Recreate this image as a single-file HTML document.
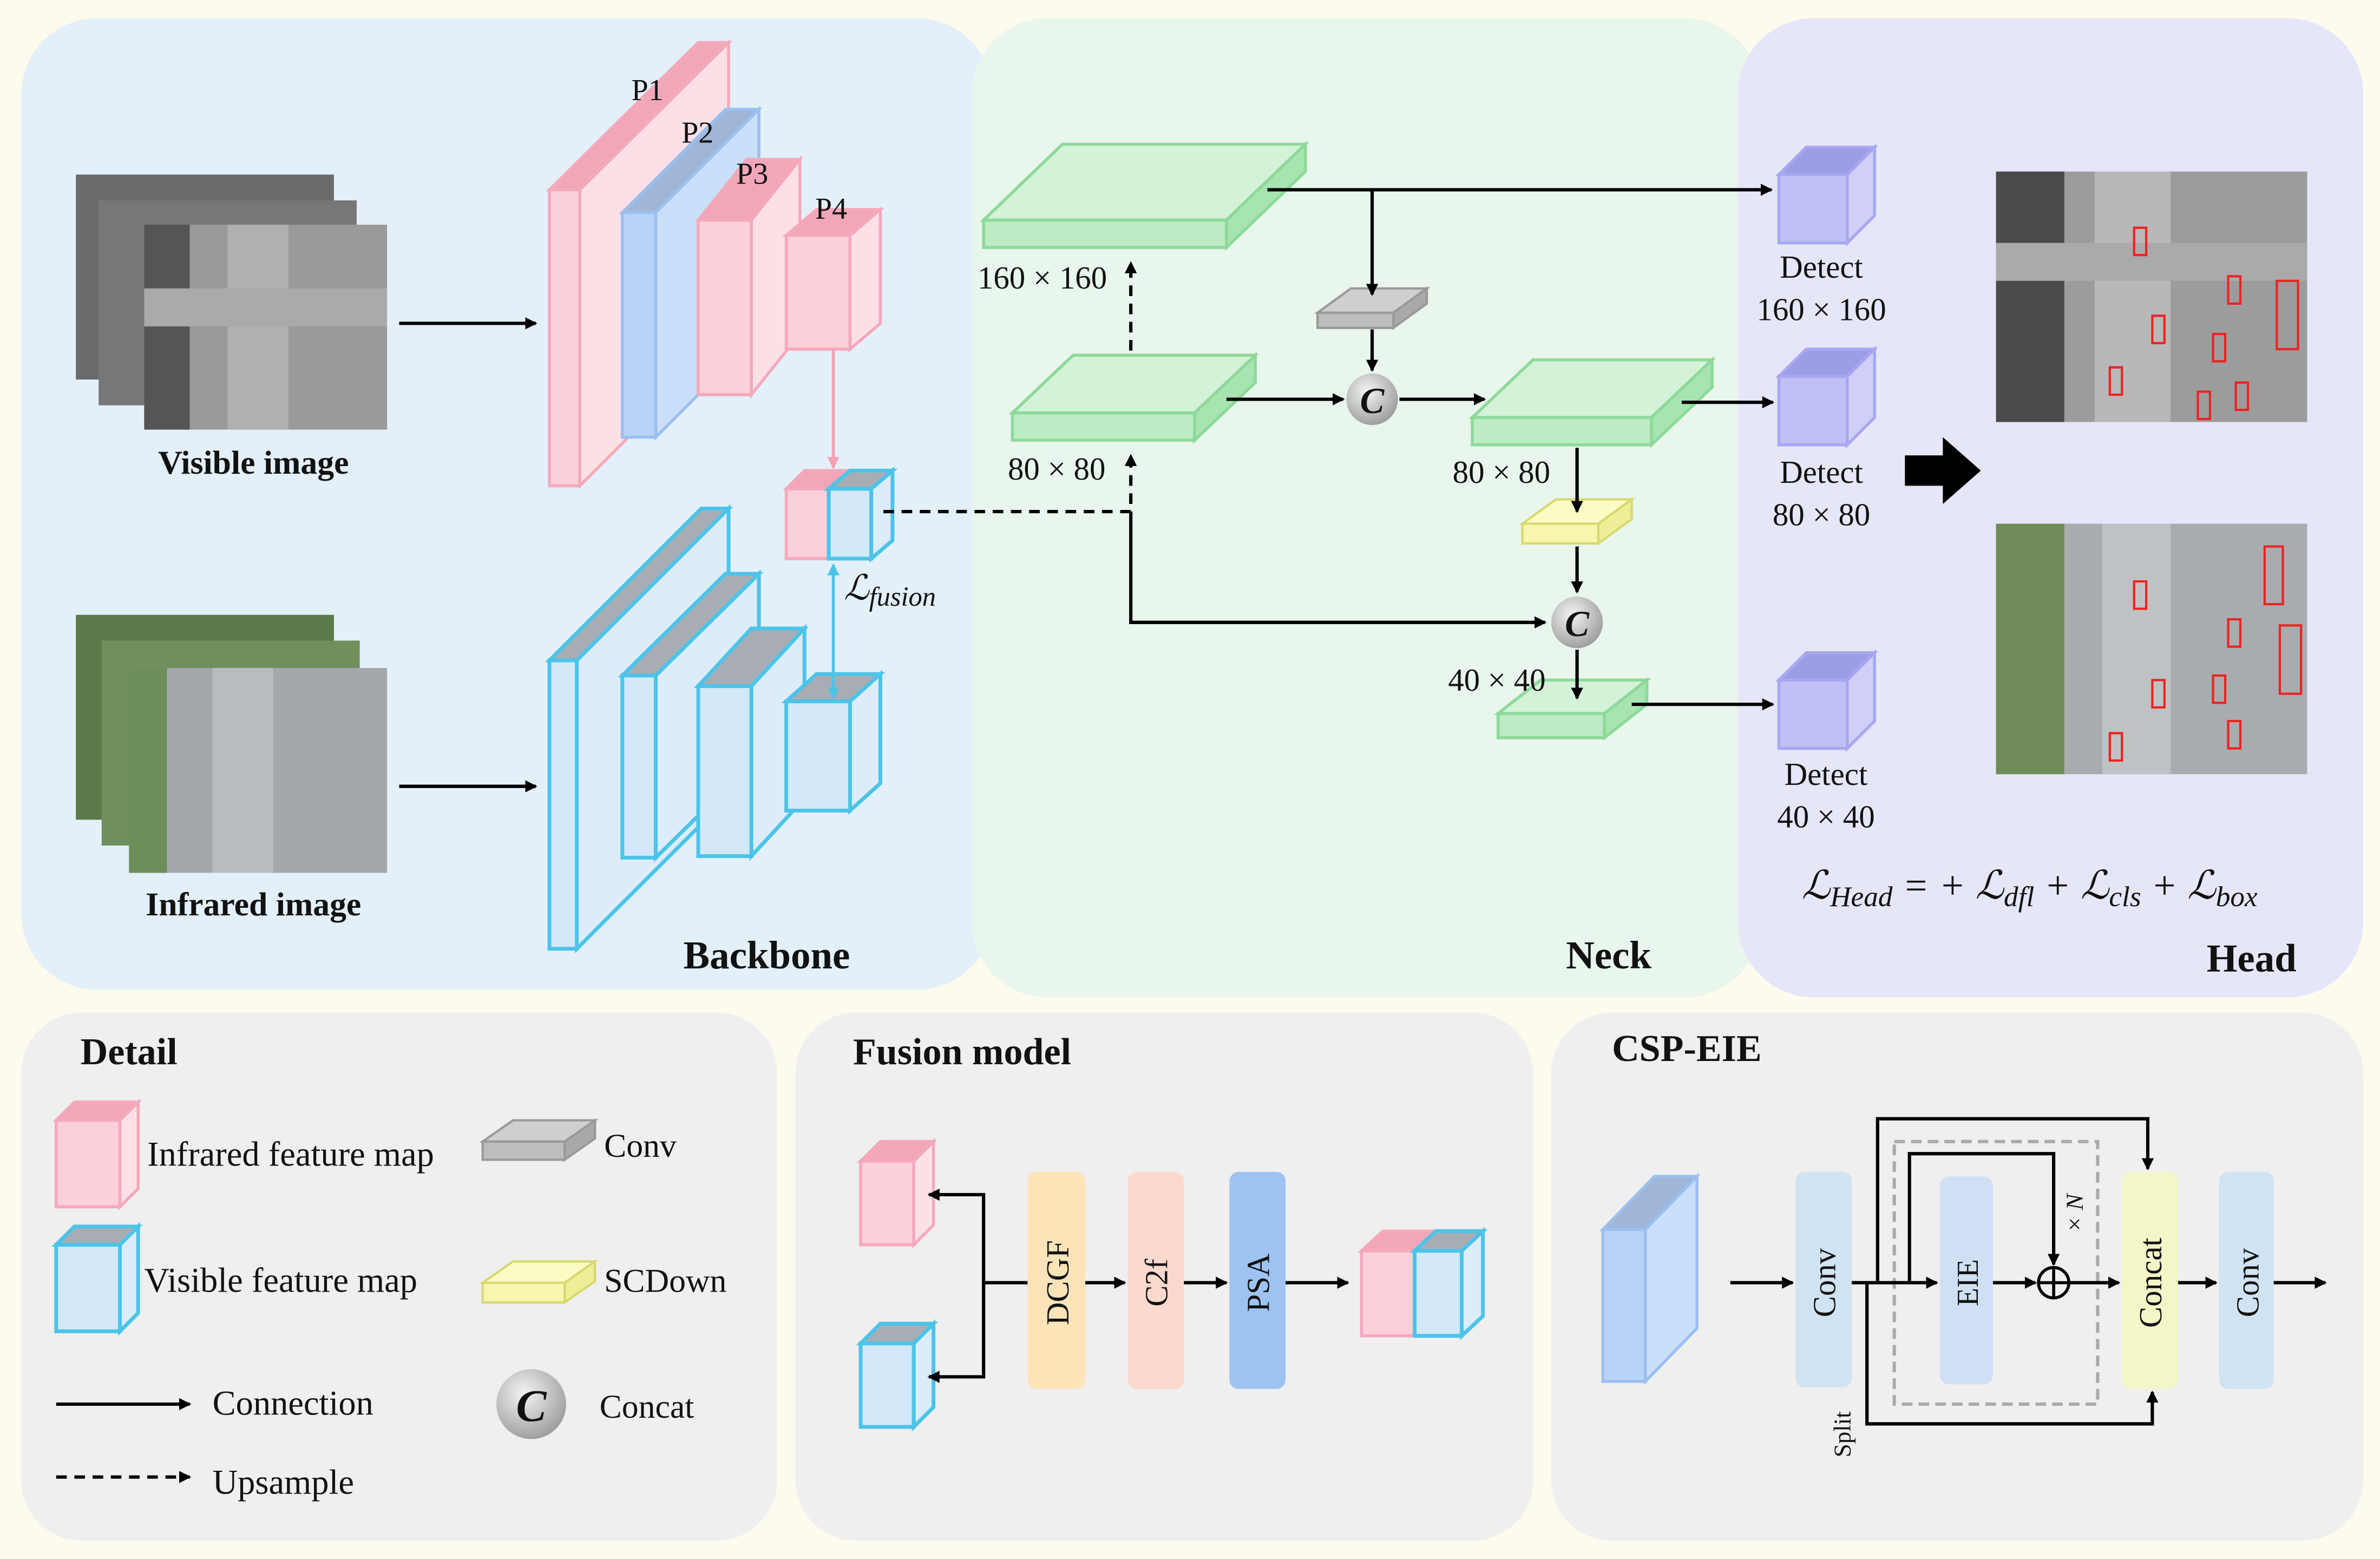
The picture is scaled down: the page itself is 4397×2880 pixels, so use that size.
<!DOCTYPE html>
<html><head><meta charset="utf-8"><style>
html,body{margin:0;padding:0;background:#fdfbee}
svg{display:block}
text{font-family:"Liberation Serif",serif;fill:#111}
</style></head><body>
<svg width="4397" height="2880" viewBox="0 0 1568 1027" xmlns="http://www.w3.org/2000/svg">
<defs>
<marker id="ah" markerWidth="8" markerHeight="8" refX="7" refY="4" orient="auto" markerUnits="userSpaceOnUse"><path d="M0,0 L8,4 L0,8 Z" fill="#000"/></marker>
<marker id="ahp" markerWidth="8" markerHeight="8" refX="7" refY="4" orient="auto" markerUnits="userSpaceOnUse"><path d="M0,0 L8,4 L0,8 Z" fill="#f4a0b4"/></marker>
<marker id="ahc" markerWidth="8" markerHeight="8" refX="7" refY="4" orient="auto" markerUnits="userSpaceOnUse"><path d="M0,0 L8,4 L0,8 Z" fill="#4cc4e8"/></marker>
<radialGradient id="cg" cx="0.4" cy="0.35" r="0.7"><stop offset="0" stop-color="#f4f4f4"/><stop offset="1" stop-color="#9a9a9a"/></radialGradient>
</defs>
<rect width="1568" height="1027" fill="#fdfbee"/>
<!-- panels -->
<rect x="14" y="12" width="640" height="640" rx="50" fill="#e3f0fa"/>
<rect x="640" y="12" width="520" height="645" rx="50" fill="#e8f6ec"/>
<rect x="1145" y="12" width="412" height="645" rx="50" fill="#e6e6fa"/>
<rect x="14" y="667" width="498" height="348" rx="40" fill="#efefef"/>
<rect x="524" y="667" width="486" height="348" rx="40" fill="#efefef"/>
<rect x="1022" y="667" width="535" height="348" rx="40" fill="#efefef"/>

<!-- visible images -->
<rect x="50" y="115" width="170" height="135" fill="#6a6a6a"/>
<rect x="65" y="132" width="170" height="135" fill="#777"/>
<rect x="95" y="148" width="160" height="135" fill="#9a9a9a"/>
<rect x="95" y="148" width="30" height="135" fill="#555"/>
<rect x="150" y="148" width="40" height="135" fill="#b0b0b0"/>
<rect x="95" y="190" width="160" height="25" fill="#aaa"/>
<!-- infrared images -->
<rect x="50" y="405" width="170" height="135" fill="#5a7a4a"/>
<rect x="67" y="422" width="170" height="135" fill="#6f8f5c"/>
<rect x="85" y="440" width="170" height="135" fill="#a4a8ac"/>
<rect x="85" y="440" width="25" height="135" fill="#6c8e58"/>
<rect x="140" y="440" width="40" height="135" fill="#b8bcc0"/>
<text x="167" y="312" font-size="22" font-weight="bold" text-anchor="middle">Visible image</text>
<text x="167" y="603" font-size="22" font-weight="bold" text-anchor="middle">Infrared image</text>
<line x1="263" y1="213" x2="353" y2="213" stroke="#000" stroke-width="2.2" marker-end="url(#ah)"/>
<line x1="263" y1="518" x2="353" y2="518" stroke="#000" stroke-width="2.2" marker-end="url(#ah)"/>

<!-- pink pyramid -->
<g stroke="#f4a9bb" stroke-width="2">
<polygon points="362,125 460,28 480,28 382,125" fill="#f2a7b8"/><polygon points="382,125 480,28 480,222 382,320" fill="#fde0e6"/><rect x="362" y="125" width="20" height="195" fill="#fbd0d9"/>
</g>
<g stroke="#9cc0ee" stroke-width="2">
<polygon points="410,140 478,72 500,72 432,140" fill="#9fb6d8"/><polygon points="432,140 500,72 500,220 432,288" fill="#cadffa"/><rect x="410" y="140" width="22" height="148" fill="#b9d3f7"/>
</g>
<g stroke="#f4a9bb" stroke-width="2">
<polygon points="460,145 492,105 527,105 495,145" fill="#f2a7b8"/><polygon points="495,145 527,105 527,220 495,260" fill="#fde0e6"/><rect x="460" y="145" width="35" height="115" fill="#fbd0d9"/>
</g>
<g stroke="#f4a9bb" stroke-width="2">
<polygon points="518,155 538,138 580,138 560,155" fill="#f2a7b8"/><polygon points="560,155 580,138 580,213 560,230" fill="#fde0e6"/><rect x="518" y="155" width="42" height="75" fill="#fbd0d9"/>
</g>
<text x="416" y="66" font-size="20">P1</text><text x="449" y="94" font-size="20">P2</text><text x="485" y="121" font-size="20">P3</text><text x="537" y="144" font-size="20">P4</text>

<!-- blue pyramid -->
<g stroke="#4cc4e8" stroke-width="2.5">
<polygon points="362,435 462,335 480,335 380,435" fill="#a8adb4"/><polygon points="380,435 480,335 480,525 380,625" fill="#dcecfa"/><rect x="362" y="435" width="18" height="190" fill="#d3e8f8"/>
</g>
<g stroke="#4cc4e8" stroke-width="2.5">
<polygon points="410,445 478,378 500,378 432,445" fill="#a8adb4"/><polygon points="432,445 500,378 500,498 432,565" fill="#dcecfa"/><rect x="410" y="445" width="22" height="120" fill="#d3e8f8"/>
</g>
<g stroke="#4cc4e8" stroke-width="2.5">
<polygon points="460,452 495,414 530,414 495,452" fill="#a8adb4"/><polygon points="495,452 530,414 530,526 495,564" fill="#dcecfa"/><rect x="460" y="452" width="35" height="112" fill="#d3e8f8"/>
</g>
<g stroke="#4cc4e8" stroke-width="2.5">
<polygon points="518,462 538,444 580,444 560,462" fill="#a8adb4"/><polygon points="560,462 580,444 580,516 560,534" fill="#dcecfa"/><rect x="518" y="462" width="42" height="72" fill="#d3e8f8"/>
</g>
<!-- fused -->
<g stroke="#f4a9bb" stroke-width="2"><polygon points="518,322 530,310 558,310 546,322" fill="#f2a7b8"/><rect x="518" y="322" width="28" height="46" fill="#fbd0d9"/></g>
<g stroke="#4cc4e8" stroke-width="2.5"><polygon points="546,322 560,310 588,310 574,322" fill="#a8adb4"/><polygon points="574,322 588,310 588,356 574,368" fill="#dcecfa"/><rect x="546" y="322" width="28" height="46" fill="#d3e8f8"/></g>
<line x1="549" y1="230" x2="549" y2="308" stroke="#f4a0b4" stroke-width="2" marker-end="url(#ahp)"/>
<line x1="549" y1="460" x2="549" y2="372" stroke="#4cc4e8" stroke-width="2" marker-end="url(#ahc)"/>
<circle cx="549" cy="455" r="3" fill="#4cc4e8"/>
<text x="556" y="395" font-size="23" font-style="italic">ℒ<tspan font-size="18" dy="4">fusion</tspan></text>
<text x="560" y="638" font-size="26" font-weight="bold" text-anchor="end">Backbone</text>

<!-- neck -->
<path d="M582,337 H745 V300" stroke="#000" stroke-width="2.2" fill="none" stroke-dasharray="7,5" marker-end="url(#ah)"/>
<path d="M745,337 V410 H1018" stroke="#000" stroke-width="2.2" fill="none" marker-end="url(#ah)"/>
<line x1="745" y1="255" x2="745" y2="173" stroke="#000" stroke-width="2.2" stroke-dasharray="7,5" marker-end="url(#ah)"/>
<g stroke="#8ed99a" stroke-width="2">
<polygon points="648,145 700,95 860,95 808,145" fill="#d4f2d8"/><polygon points="808,145 860,95 860,113 808,163" fill="#a8e4b2"/><rect x="648" y="145" width="160" height="18" fill="#bdebc4"/>
<polygon points="667,272 707,234 827,234 787,272" fill="#d4f2d8"/><polygon points="787,272 827,234 827,252 787,290" fill="#a8e4b2"/><rect x="667" y="272" width="120" height="18" fill="#bdebc4"/>
<polygon points="970,275 1010,237 1128,237 1088,275" fill="#d4f2d8"/><polygon points="1088,275 1128,237 1128,255 1088,293" fill="#a8e4b2"/><rect x="970" y="275" width="118" height="18" fill="#bdebc4"/>
<polygon points="987,470 1015,448 1085,448 1057,470" fill="#d4f2d8"/><polygon points="1057,470 1085,448 1085,464 1057,486" fill="#a8e4b2"/><rect x="987" y="470" width="70" height="16" fill="#bdebc4"/>
</g>
<g stroke="#999" stroke-width="1.5"><polygon points="868,206 890,190 940,190 918,206" fill="#cfcfcf"/><polygon points="918,206 940,190 940,200 918,216" fill="#a9a9a9"/><rect x="868" y="206" width="50" height="10" fill="#bdbdbd"/></g>
<g stroke="#d8d870" stroke-width="1.5"><polygon points="1003,345 1025,329 1075,329 1053,345" fill="#fbfbc4"/><polygon points="1053,345 1075,329 1075,342 1053,358" fill="#eeee98"/><rect x="1003" y="345" width="50" height="13" fill="#f6f6ae"/></g>
<text x="644" y="190" font-size="21">160 × 160</text>
<text x="664" y="316" font-size="21">80 × 80</text>
<text x="957" y="318" font-size="21">80 × 80</text>
<text x="954" y="455" font-size="21">40 × 40</text>
<line x1="835" y1="125" x2="1167" y2="125" stroke="#000" stroke-width="2.2" marker-end="url(#ah)"/>
<line x1="904" y1="125" x2="904" y2="194" stroke="#000" stroke-width="2.2" marker-end="url(#ah)"/>
<line x1="904" y1="217" x2="904" y2="244" stroke="#000" stroke-width="2.2" marker-end="url(#ah)"/>
<line x1="808" y1="263" x2="885" y2="263" stroke="#000" stroke-width="2.2" marker-end="url(#ah)"/>
<line x1="922" y1="263" x2="978" y2="263" stroke="#000" stroke-width="2.2" marker-end="url(#ah)"/>
<line x1="1108" y1="265" x2="1168" y2="265" stroke="#000" stroke-width="2.2" marker-end="url(#ah)"/>
<line x1="1039" y1="295" x2="1039" y2="337" stroke="#000" stroke-width="2.2" marker-end="url(#ah)"/>
<line x1="1039" y1="360" x2="1039" y2="390" stroke="#000" stroke-width="2.2" marker-end="url(#ah)"/>
<line x1="1039" y1="428" x2="1039" y2="460" stroke="#000" stroke-width="2.2" marker-end="url(#ah)"/>
<line x1="1075" y1="464" x2="1168" y2="464" stroke="#000" stroke-width="2.2" marker-end="url(#ah)"/>
<circle cx="904" cy="263" r="17" fill="url(#cg)"/><text x="904" y="272" font-size="24" font-weight="bold" font-style="italic" text-anchor="middle">C</text>
<circle cx="1039" cy="410" r="17" fill="url(#cg)"/><text x="1039" y="419" font-size="24" font-weight="bold" font-style="italic" text-anchor="middle">C</text>
<text x="1088" y="638" font-size="26" font-weight="bold" text-anchor="end">Neck</text>

<!-- head -->
<g stroke="#a8a8f0" stroke-width="2">
<polygon points="1172,115 1190,97 1235,97 1217,115" fill="#9d9de6"/><polygon points="1217,115 1235,97 1235,142 1217,160" fill="#cfcff8"/><rect x="1172" y="115" width="45" height="45" fill="#c0c0f6"/>
<polygon points="1172,248 1190,230 1235,230 1217,248" fill="#9d9de6"/><polygon points="1217,248 1235,230 1235,275 1217,293" fill="#cfcff8"/><rect x="1172" y="248" width="45" height="45" fill="#c0c0f6"/>
<polygon points="1172,448 1190,430 1235,430 1217,448" fill="#9d9de6"/><polygon points="1217,448 1235,430 1235,475 1217,493" fill="#cfcff8"/><rect x="1172" y="448" width="45" height="45" fill="#c0c0f6"/>
</g>
<text x="1200" y="183" font-size="21" text-anchor="middle">Detect</text><text x="1200" y="211" font-size="21" text-anchor="middle">160 × 160</text>
<text x="1200" y="318" font-size="21" text-anchor="middle">Detect</text><text x="1200" y="346" font-size="21" text-anchor="middle">80 × 80</text>
<text x="1203" y="517" font-size="21" text-anchor="middle">Detect</text><text x="1203" y="545" font-size="21" text-anchor="middle">40 × 40</text>
<polygon points="1255,300 1280,300 1280,288 1305,310 1280,332 1280,320 1255,320" fill="#000"/>
<rect x="1315" y="113" width="205" height="165" fill="#9c9c9c"/>
<rect x="1315" y="113" width="45" height="165" fill="#4a4a4a"/>
<rect x="1380" y="113" width="50" height="165" fill="#b8b8b8"/>
<rect x="1315" y="160" width="205" height="25" fill="#aaa"/>
<rect x="1315" y="345" width="205" height="165" fill="#a9acae"/>
<rect x="1315" y="345" width="45" height="165" fill="#6f8c58"/>
<rect x="1385" y="345" width="45" height="165" fill="#bfc2c4"/>
<g fill="none" stroke="#e22" stroke-width="1.5">
<rect x="1406" y="150" width="8" height="18"/><rect x="1468" y="182" width="8" height="18"/><rect x="1418" y="208" width="8" height="18"/><rect x="1458" y="220" width="8" height="18"/><rect x="1390" y="242" width="8" height="18"/><rect x="1448" y="258" width="8" height="18"/><rect x="1473" y="252" width="8" height="18"/><rect x="1500" y="185" width="14" height="45"/>
<rect x="1406" y="383" width="8" height="18"/><rect x="1468" y="408" width="8" height="18"/><rect x="1418" y="448" width="8" height="18"/><rect x="1458" y="445" width="8" height="18"/><rect x="1390" y="483" width="8" height="18"/><rect x="1468" y="475" width="8" height="18"/><rect x="1492" y="360" width="12" height="38"/><rect x="1502" y="412" width="14" height="45"/>
</g>
<text x="1187" y="592" font-size="26" font-style="italic">ℒ<tspan font-size="19" dy="5">Head</tspan><tspan dy="-5"> = + ℒ</tspan><tspan font-size="19" dy="5">dfl</tspan><tspan dy="-5"> + ℒ</tspan><tspan font-size="19" dy="5">cls</tspan><tspan dy="-5"> + ℒ</tspan><tspan font-size="19" dy="5">box</tspan></text>
<text x="1513" y="640" font-size="26" font-weight="bold" text-anchor="end">Head</text>

<!-- Detail -->
<text x="53" y="701" font-size="25" font-weight="bold">Detail</text>
<g stroke="#f4a9bb" stroke-width="2"><polygon points="37,738 49,726 91,726 79,738" fill="#f2a7b8"/><polygon points="79,738 91,726 91,783 79,795" fill="#fde0e6"/><rect x="37" y="738" width="42" height="57" fill="#fbd0d9"/></g>
<g stroke="#4cc4e8" stroke-width="2.5"><polygon points="37,820 49,808 91,808 79,820" fill="#a8adb4"/><polygon points="79,820 91,808 91,865 79,877" fill="#dcecfa"/><rect x="37" y="820" width="42" height="57" fill="#d3e8f8"/></g>
<text x="97" y="768" font-size="23">Infrared feature map</text>
<text x="95" y="851" font-size="23">Visible feature map</text>
<g stroke="#999" stroke-width="1.5"><polygon points="318,752 338,738 392,738 372,752" fill="#cfcfcf"/><polygon points="372,752 392,738 392,750 372,764" fill="#a9a9a9"/><rect x="318" y="752" width="54" height="12" fill="#bdbdbd"/></g>
<g stroke="#d8d870" stroke-width="1.5"><polygon points="318,845 338,831 392,831 372,845" fill="#fbfbc4"/><polygon points="372,845 392,831 392,844 372,858" fill="#eeee98"/><rect x="318" y="845" width="54" height="13" fill="#f6f6ae"/></g>
<text x="398" y="762" font-size="22">Conv</text>
<text x="398" y="851" font-size="22">SCDown</text>
<line x1="37" y1="925" x2="125" y2="925" stroke="#000" stroke-width="2.2" marker-end="url(#ah)"/>
<line x1="37" y1="973" x2="125" y2="973" stroke="#000" stroke-width="2.2" stroke-dasharray="7,5" marker-end="url(#ah)"/>
<text x="140" y="932" font-size="23">Connection</text>
<text x="140" y="984" font-size="23">Upsample</text>
<circle cx="350" cy="925" r="23" fill="url(#cg)"/><text x="350" y="936" font-size="30" font-weight="bold" font-style="italic" text-anchor="middle">C</text>
<text x="395" y="934" font-size="22">Concat</text>

<!-- Fusion -->
<text x="562" y="701" font-size="25" font-weight="bold">Fusion model</text>
<g stroke="#f4a9bb" stroke-width="2"><polygon points="567,765 580,752 615,752 602,765" fill="#f2a7b8"/><polygon points="602,765 615,752 615,807 602,820" fill="#fde0e6"/><rect x="567" y="765" width="35" height="55" fill="#fbd0d9"/></g>
<g stroke="#4cc4e8" stroke-width="2.5"><polygon points="567,885 580,872 615,872 602,885" fill="#a8adb4"/><polygon points="602,885 615,872 615,927 602,940" fill="#dcecfa"/><rect x="567" y="885" width="35" height="55" fill="#d3e8f8"/></g>
<path d="M677,845 H648 V787 H612" stroke="#000" stroke-width="2.2" fill="none" marker-end="url(#ah)"/>
<path d="M648,845 V907 H612" stroke="#000" stroke-width="2.2" fill="none" marker-end="url(#ah)"/>
<rect x="677" y="772" width="38" height="143" rx="6" fill="#fde3b8"/>
<rect x="743" y="772" width="37" height="143" rx="6" fill="#fcd9cc"/>
<rect x="810" y="772" width="37" height="143" rx="6" fill="#9ec3f3"/>
<text transform="translate(704,845) rotate(-90)" font-size="21" text-anchor="middle">DCGF</text>
<text transform="translate(769,845) rotate(-90)" font-size="21" text-anchor="middle">C2f</text>
<text transform="translate(836,845) rotate(-90)" font-size="21" text-anchor="middle">PSA</text>
<line x1="715" y1="845" x2="741" y2="845" stroke="#000" stroke-width="2.2" marker-end="url(#ah)"/>
<line x1="780" y1="845" x2="808" y2="845" stroke="#000" stroke-width="2.2" marker-end="url(#ah)"/>
<line x1="847" y1="845" x2="888" y2="845" stroke="#000" stroke-width="2.2" marker-end="url(#ah)"/>
<g stroke="#f4a9bb" stroke-width="2"><polygon points="897,824 911,811 946,811 932,824" fill="#f2a7b8"/><rect x="897" y="824" width="35" height="56" fill="#fbd0d9"/></g>
<g stroke="#4cc4e8" stroke-width="2.5"><polygon points="932,824 946,811 977,811 963,824" fill="#a8adb4"/><polygon points="963,824 977,811 977,867 963,880" fill="#dcecfa"/><rect x="932" y="824" width="31" height="56" fill="#d3e8f8"/></g>

<!-- CSP-EIE -->
<text x="1062" y="699" font-size="25" font-weight="bold">CSP-EIE</text>
<g stroke="#9cc0ee" stroke-width="2"><polygon points="1056,810 1090,775 1118,775 1084,810" fill="#9fb6d8"/><polygon points="1084,810 1118,775 1118,875 1084,910" fill="#cadffa"/><rect x="1056" y="810" width="28" height="100" fill="#b9d3f7"/></g>
<rect x="1248" y="752" width="134" height="173" fill="none" stroke="#aaa" stroke-width="2.2" stroke-dasharray="7,4"/>
<rect x="1183" y="772" width="37" height="142" rx="6" fill="#cfe3f3"/>
<rect x="1278" y="775" width="35" height="137" rx="6" fill="#cfe0f5"/>
<rect x="1398" y="772" width="37" height="143" rx="6" fill="#f3f7c8"/>
<rect x="1462" y="772" width="36" height="143" rx="6" fill="#cfe3f3"/>
<text transform="translate(1209,845) rotate(-90)" font-size="21" text-anchor="middle">Conv</text>
<text transform="translate(1303,845) rotate(-90)" font-size="20" text-anchor="middle">EIE</text>
<text transform="translate(1424,845) rotate(-90)" font-size="21" text-anchor="middle">Concat</text>
<text transform="translate(1488,845) rotate(-90)" font-size="21" text-anchor="middle">Conv</text>
<line x1="1140" y1="845" x2="1181" y2="845" stroke="#000" stroke-width="2.2" marker-end="url(#ah)"/>
<line x1="1220" y1="845" x2="1276" y2="845" stroke="#000" stroke-width="2.2" marker-end="url(#ah)"/>
<line x1="1313" y1="845" x2="1341" y2="845" stroke="#000" stroke-width="2.2" marker-end="url(#ah)"/>
<line x1="1364" y1="845" x2="1396" y2="845" stroke="#000" stroke-width="2.2" marker-end="url(#ah)"/>
<line x1="1435" y1="845" x2="1460" y2="845" stroke="#000" stroke-width="2.2" marker-end="url(#ah)"/>
<line x1="1498" y1="845" x2="1532" y2="845" stroke="#000" stroke-width="2.2" marker-end="url(#ah)"/>
<circle cx="1353" cy="845" r="10" fill="none" stroke="#000" stroke-width="2"/>
<line x1="1343" y1="845" x2="1363" y2="845" stroke="#000" stroke-width="2"/><line x1="1353" y1="835" x2="1353" y2="855" stroke="#000" stroke-width="2"/>
<path d="M1237,845 V737 H1415 V770" stroke="#000" stroke-width="2.2" fill="none" marker-end="url(#ah)"/>
<path d="M1258,845 V760 H1353 V833" stroke="#000" stroke-width="2.2" fill="none" marker-end="url(#ah)"/>
<path d="M1230,845 V938 H1418 V917" stroke="#000" stroke-width="2.2" fill="none" marker-end="url(#ah)"/>
<text transform="translate(1219,960) rotate(-90)" font-size="16">Split</text>
<text transform="translate(1372,812) rotate(-90)" font-size="16" font-style="italic">× N</text>
</svg>
</body></html>
